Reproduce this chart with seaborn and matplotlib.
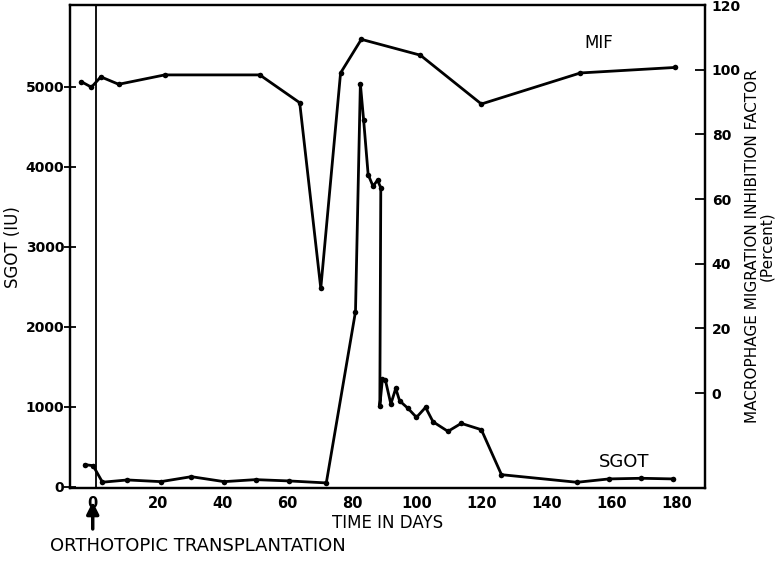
import matplotlib
matplotlib.use("Agg")
import matplotlib.pyplot as plt
import seaborn as sns
import pandas as pd

sns.set_theme(style="white")
plt.rcParams['font.family'] = ['DejaVu Sans']
plt.rcParams['text.color'] = 'black'
plt.rcParams['axes.labelcolor'] = 'black'
plt.rcParams['xtick.color'] = 'black'
plt.rcParams['ytick.color'] = 'black'

# SGOT (IU), left axis
sgot_day = [-2.5, 0.1, 3, 10.7, 21, 30.4, 40.5, 50.2, 60.4, 72,
            81, 82.5, 83.5, 84.9, 86.4, 87.8, 88.8, 88.5, 89.3, 90.2,
            91.9, 93.4, 94.6, 97.2, 99.8, 102.6, 104.9, 109.5, 113.6, 119.8,
            126, 149.3, 159.2, 169.1, 178.9]
sgot_val = [278, 266, 59, 87, 66, 128, 66, 91, 75, 50,
            2190, 5037, 4588, 3903, 3757, 3832, 3737, 1014, 1347, 1338,
            1035, 1231, 1076, 981, 869, 994, 814, 694, 794, 715,
            153, 58, 100, 108, 100]

# MIF (percent), right axis
mif_day = [-3.5, -0.4, 2.5, 8, 22.2, 51.5, 63.8, 70.3, 76.4, 82.8,
           101, 119.8, 150.3, 179.4]
mif_val = [96.3, 94.6, 97.8, 95.5, 98.4, 98.4, 89.8, 32.4, 99, 109.4,
           104.5, 89.4, 99, 100.7]

df_sgot = pd.DataFrame({"day": sgot_day, "val": sgot_val})
df_mif = pd.DataFrame({"day": mif_day, "val": mif_val})

fig, ax = plt.subplots(figsize=(7.78, 5.63), dpi=100)
fig.subplots_adjust(left=0.09, right=0.906, top=0.991, bottom=0.133)
ax2 = ax.twinx()

sns.lineplot(data=df_sgot, x="day", y="val", sort=False, ax=ax, color="black",
             linewidth=2, marker="o", markersize=4, markeredgewidth=0)
sns.lineplot(data=df_mif, x="day", y="val", sort=False, ax=ax2, color="black",
             linewidth=2, marker="o", markersize=4, markeredgewidth=0)

ax.axvline(1, color="black", linewidth=1.3)

ax.set_xlim(-7, 188.7)
ax.set_ylim(-15, 6020)
ax2.set_ylim(-29.4, 120)
ax.set_xticks([0, 20, 40, 60, 80, 100, 120, 140, 160, 180])
ax.set_yticks([0, 1000, 2000, 3000, 4000, 5000])
ax2.set_yticks([0, 20, 40, 60, 80, 100, 120])

for a in (ax, ax2):
    for s in a.spines.values():
        s.set_color("black")
        s.set_linewidth(1.6)
ax.tick_params(axis="y", direction="inout", length=8, width=1.3, labelsize=10, pad=0)
ax.tick_params(axis="x", length=0, labelsize=10.5, pad=6)
ax2.tick_params(axis="y", direction="in", length=7, width=1.3, labelsize=10, pad=5)
for lbl in ax.get_xticklabels() + ax.get_yticklabels() + ax2.get_yticklabels():
    lbl.set_fontweight("bold")

ax.set_xlabel("TIME IN DAYS", fontsize=12, labelpad=2)
ax.set_ylabel("SGOT (IU)", fontsize=12, labelpad=3)
ax2.set_ylabel("MACROPHAGE MIGRATION INHIBITION FACTOR\n(Percent)", fontsize=11,
               labelpad=3, linespacing=0.9)

ax2.text(151.5, 105.5, "MIF", fontsize=12, ha="left", va="bottom")
ax.text(156, 200, "SGOT", fontsize=13, ha="left", va="bottom")

fig.text(0.064, 0.022, "ORTHOTOPIC TRANSPLANTATION", fontsize=13, ha="left")
ax.annotate("", xy=(0, -150), xytext=(0, -560), xycoords="data", textcoords="data",
            annotation_clip=False,
            arrowprops=dict(arrowstyle="-|>,head_length=0.6,head_width=0.3", color="black", lw=2.5))

fig.savefig("out.png", dpi=100)
